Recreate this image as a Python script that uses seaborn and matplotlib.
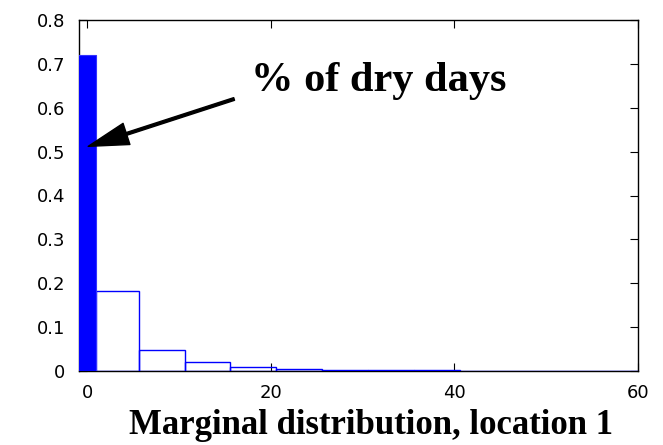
import numpy as np
import pandas as pd
import matplotlib
matplotlib.use("Agg")
import matplotlib.pyplot as plt
import seaborn as sns

# ---- data ----
dry_center = [0.0]
dry_edges = [-1.0, 1.0]
dry_value = [0.72]

wet_edges = [1.0, 5.6, 10.6, 15.6, 20.6, 25.6, 30.6, 35.6, 40.6, 45.6, 50.6, 55.6, 60.6]
wet_values = [0.183, 0.047, 0.020, 0.010, 0.004, 0.002, 0.0012, 0.0012, 0.0011, 0.0011, 0.0011, 0.0011]

x_ticks = [0, 20, 40, 60]
y_ticks = [0, 0.1, 0.2, 0.3, 0.4, 0.5, 0.6, 0.7, 0.8]
annotation_text = "% of dry days"
xlabel_text = "Marginal distribution, location 1"

sns.set_style("white")
plt.rcParams['font.family'] = ['DejaVu Sans']
plt.rcParams['text.color'] = 'black'

fig = plt.figure(figsize=(6.63, 4.45), dpi=100)
ax = fig.add_axes([79/663, 1-371/445, (638-79)/663, (371-20)/445])

wet_centers = [(a + b) / 2 for a, b in zip(wet_edges[:-1], wet_edges[1:])]
df_wet = pd.DataFrame({"x": wet_centers, "w": wet_values})
df_dry = pd.DataFrame({"x": dry_center, "w": dry_value})

sns.histplot(data=df_wet, x="x", weights="w", bins=wet_edges, stat="count",
             fill=False, element="bars", color="#0000FF", linewidth=1.0, ax=ax)
sns.histplot(data=df_dry, x="x", weights="w", bins=dry_edges, stat="count",
             fill=True, element="bars", color="#0000FF", alpha=1.0,
             edgecolor="#3333FF", linewidth=0.8, ax=ax)

ax.set_xlim(-0.9, 60)
ax.set_ylim(0, 0.8)
ax.set_xticks(x_ticks)
ax.set_yticks(y_ticks)
ax.set_xticklabels([str(t) for t in x_ticks])
ax.set_yticklabels(["0" if t == 0 else f"{t:.1f}" for t in y_ticks])
ax.set_ylabel("")
ax.set_xlabel("")

for s in ax.spines.values():
    s.set_visible(True)
    s.set_color("black")
    s.set_linewidth(1.0)
    s.set_zorder(0.5)

ax.tick_params(direction="in", length=6, width=0.8, colors="black",
               top=True, right=True, bottom=True, left=True,
               labelsize=13)
ax.tick_params(axis="y", pad=10)
ax.tick_params(axis="x", pad=9)
for lab in ax.get_xticklabels() + ax.get_yticklabels():
    lab.set_color("black")

ax.annotate("", xy=(0.1, 0.512), xytext=(16.0, 0.62),
            arrowprops=dict(width=2.0, headwidth=16, headlength=29,
                            facecolor="black", edgecolor="black", shrink=0.0))
ax.text(17.8, 0.638, annotation_text, fontsize=30.5, fontweight="bold",
        color="black", family=["Liberation Serif", "DejaVu Serif"],
        va="baseline", ha="left")

fig.text(371/663, 1-434/445, xlabel_text, fontsize=25, fontweight="bold",
         color="black", family=["Liberation Serif", "DejaVu Serif"],
         ha="center", va="baseline")

fig.savefig("out.png", dpi=100)
